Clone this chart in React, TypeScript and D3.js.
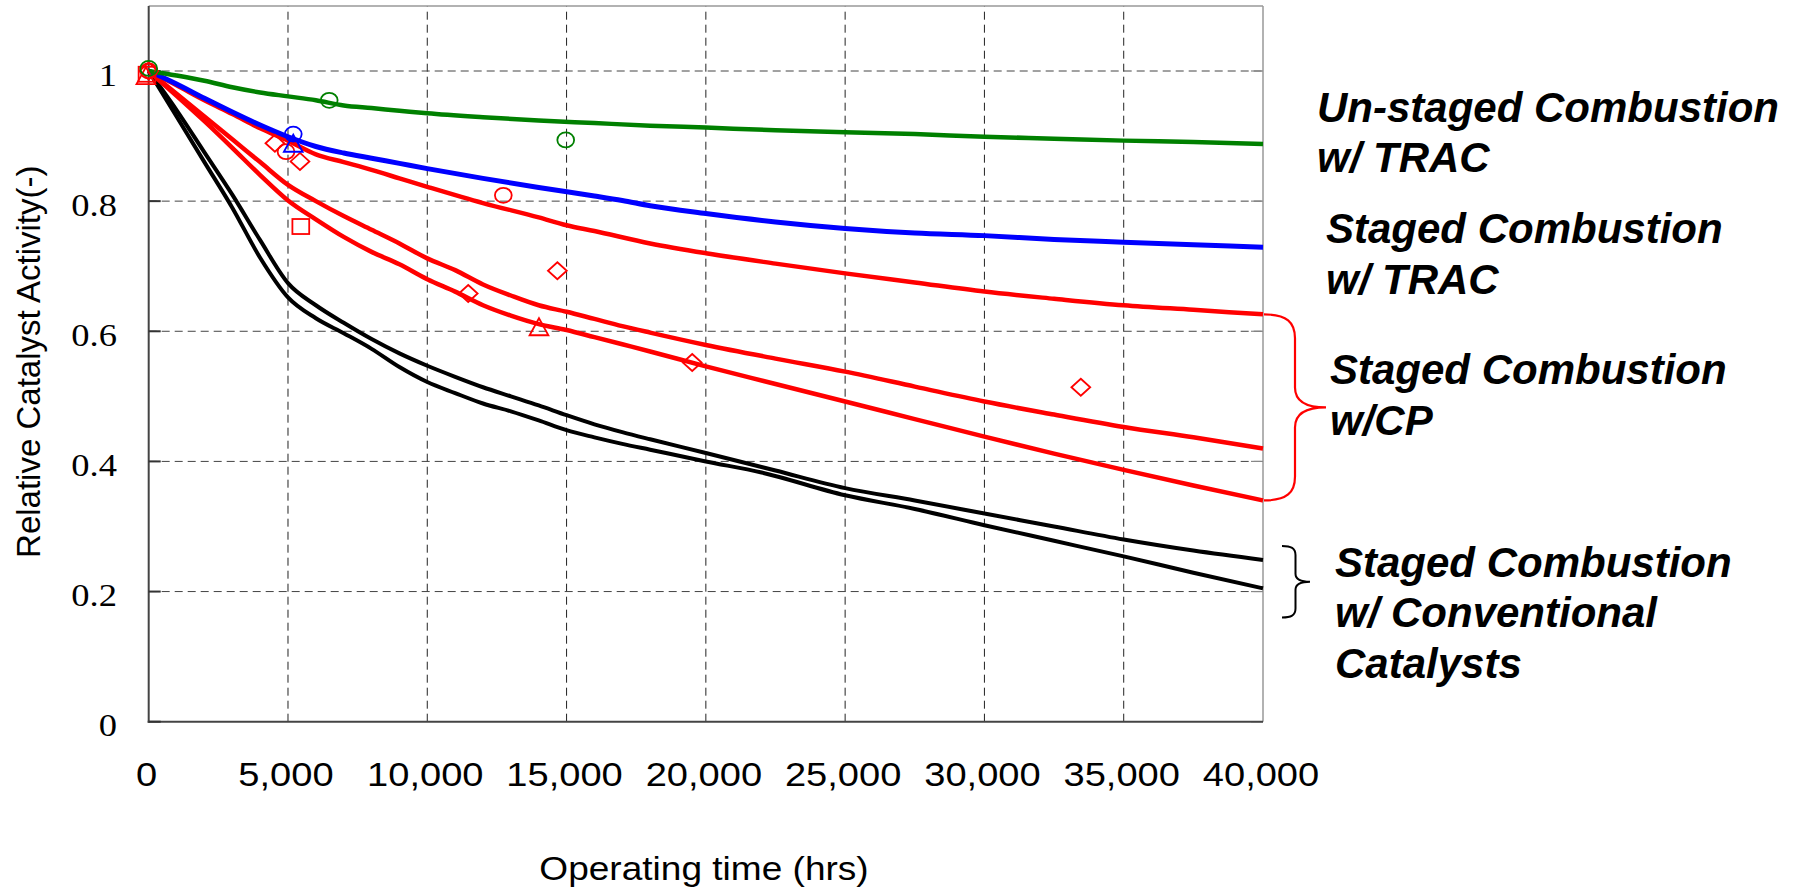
import React from "react";
import * as d3 from "d3";

const W = 1807;
const H = 893;

// ---- data (hours, relative activity) ----
const greenLine: [number, number][] = [
  [0, 1.0], [1000, 0.993], [2000, 0.985], [3000, 0.975], [4000, 0.967], [5000, 0.961],
  [6000, 0.955], [7000, 0.947], [8000, 0.943], [9000, 0.939], [10000, 0.935],
  [12000, 0.929], [14000, 0.924], [16000, 0.92], [18000, 0.916], [20000, 0.913],
  [22500, 0.909], [25000, 0.906], [27500, 0.903], [30000, 0.899], [32500, 0.896],
  [35000, 0.893], [37500, 0.891], [40000, 0.888],
];
const blueLine: [number, number][] = [
  [0, 1.0], [1000, 0.98], [2000, 0.958], [3000, 0.937], [4000, 0.917], [5000, 0.899],
  [6000, 0.884], [7000, 0.874], [8000, 0.866], [9000, 0.858], [10000, 0.85],
  [12000, 0.835], [14000, 0.821], [16000, 0.808], [17000, 0.801], [18000, 0.793],
  [20000, 0.781], [22500, 0.768], [25000, 0.758], [27500, 0.751], [30000, 0.747],
  [32500, 0.741], [35000, 0.737], [37500, 0.733], [40000, 0.729],
];
const redLineTop: [number, number][] = [
  [0, 1.0], [1000, 0.978], [2000, 0.955], [3000, 0.934], [4000, 0.912], [5000, 0.893],
  [6000, 0.872], [7000, 0.86], [8000, 0.848], [9000, 0.835], [10000, 0.822],
  [12000, 0.797], [14000, 0.775], [15000, 0.763], [16000, 0.754], [18000, 0.735],
  [20000, 0.72], [22500, 0.704], [25000, 0.689], [27500, 0.675], [30000, 0.661],
  [32500, 0.65], [35000, 0.64], [37500, 0.633], [40000, 0.626],
];
const redLineMid: [number, number][] = [
  [0, 1.0], [1000, 0.965], [2000, 0.93], [3000, 0.895], [4000, 0.86], [5000, 0.825],
  [6000, 0.8], [7000, 0.777], [8000, 0.756], [9000, 0.735], [10000, 0.712],
  [11000, 0.694], [12000, 0.672], [13000, 0.655], [14000, 0.64], [15000, 0.63],
  [16000, 0.619], [17000, 0.608], [18000, 0.598], [20000, 0.579], [22500, 0.558],
  [25000, 0.538], [27500, 0.515], [30000, 0.492], [32500, 0.472], [35000, 0.453],
  [37500, 0.437], [40000, 0.42],
];
const redLineLow: [number, number][] = [
  [0, 1.0], [1000, 0.962], [2000, 0.923], [3000, 0.882], [4000, 0.84], [5000, 0.801],
  [6000, 0.772], [7000, 0.745], [8000, 0.722], [9000, 0.703], [10000, 0.68],
  [11000, 0.661], [12000, 0.64], [13000, 0.624], [14000, 0.611], [15000, 0.602],
  [16000, 0.591], [17000, 0.58], [18000, 0.569], [20000, 0.546], [22500, 0.519],
  [25000, 0.492], [27500, 0.465], [30000, 0.438], [32500, 0.412], [35000, 0.387],
  [37500, 0.363], [40000, 0.34],
];
const blackLineUpper: [number, number][] = [
  [0, 1.0], [1000, 0.94], [2000, 0.875], [3000, 0.81], [4000, 0.74], [5000, 0.674],
  [6000, 0.64], [7000, 0.613], [8000, 0.588], [9000, 0.566], [10000, 0.547],
  [11000, 0.53], [12000, 0.514], [13000, 0.5], [14000, 0.486], [15000, 0.471],
  [16000, 0.457], [17000, 0.445], [18000, 0.434], [20000, 0.413], [22500, 0.386],
  [25000, 0.359], [27500, 0.34], [30000, 0.32], [32500, 0.3], [35000, 0.28],
  [37500, 0.263], [40000, 0.2485],
];
const blackLineLower: [number, number][] = [
  [0, 1.0], [1000, 0.93], [2000, 0.86], [3000, 0.79], [4000, 0.713], [5000, 0.652],
  [6000, 0.62], [7000, 0.597], [8000, 0.573], [9000, 0.545], [10000, 0.522],
  [11000, 0.505], [12000, 0.489], [13000, 0.477], [14000, 0.463], [15000, 0.448],
  [16000, 0.437], [17000, 0.427], [18000, 0.418], [20000, 0.4], [22000, 0.383],
  [25000, 0.348], [27500, 0.327], [30000, 0.302], [32500, 0.278], [35000, 0.254],
  [37500, 0.229], [40000, 0.205],
];

// measured points (hollow markers)
const greenCircles: [number, number][] = [[0, 1.004], [6480, 0.955], [14970, 0.894]];
const blueCircles: [number, number][] = [[5190, 0.903]];
const blueTriangles: [number, number][] = [[5190, 0.889]];
const redCircles: [number, number][] = [[0, 1.0], [4930, 0.876], [12730, 0.809]];
const redDiamonds: [number, number][] = [
  [0, 1.0], [4530, 0.889], [5430, 0.861], [11470, 0.658], [14670, 0.693], [19510, 0.552], [33460, 0.514],
];
const redSquares: [number, number][] = [[-60, 0.995], [5460, 0.761]];
const redTriangles: [number, number][] = [[-100, 0.993], [14010, 0.607]];

const xTicks = [0, 5000, 10000, 15000, 20000, 25000, 30000, 35000, 40000];
const yTicks = [0, 0.2, 0.4, 0.6, 0.8, 1];
const yLabels = ["0", "0.2", "0.4", "0.6", "0.8", "1"];

const annotations = [
  { lines: ["Un-staged Combustion", "w/ TRAC"], x: 1317, y: 121.7 },
  { lines: ["Staged Combustion", "w/ TRAC"], x: 1326, y: 243.3 },
  { lines: ["Staged Combustion", "w/CP"], x: 1330, y: 384 },
  { lines: ["Staged Combustion", "w/ Conventional", "Catalysts"], x: 1335, y: 576.7 },
];

// brace extents (values on the y axis)
const redBrace = { top: 0.626, bottom: 0.34 };
const blackBrace = { top: 0.27, bottom: 0.16 };

export default function App() {
  const x = d3.scaleLinear().domain([0, 40000]).range([148.7, 1263]);
  const y = d3.scaleLinear().domain([0, 1.1]).range([721.7, 721.7 - 1.1 * 650.7]);

  const line = d3
    .line<[number, number]>()
    .x((d) => x(d[0]))
    .y((d) => y(d[1]))
    .curve(d3.curveMonotoneX);

  const fmt = d3.format(",");
  const xL = x(0);
  const xR = x(40000);
  const yB = y(0);
  const yT = y(1.1);

  const rx = 8.4;
  const ry = 7.5;
  const mStroke = 1.8;

  const circles = (pts: [number, number][], color: string, key: string) =>
    pts.map((d, i) => (
      <ellipse key={key + i} cx={x(d[0])} cy={y(d[1])} rx={rx} ry={ry} fill="none" stroke={color} strokeWidth={mStroke} />
    ));
  const diamonds = (pts: [number, number][], color: string, key: string) =>
    pts.map((d, i) => {
      const cx = x(d[0]);
      const cy = y(d[1]);
      return (
        <path key={key + i} d={`M${cx},${cy - ry - 1}L${cx + rx + 1},${cy}L${cx},${cy + ry + 1}L${cx - rx - 1},${cy}Z`}
          fill="none" stroke={color} strokeWidth={mStroke} />
      );
    });
  const squares = (pts: [number, number][], color: string, key: string) =>
    pts.map((d, i) => (
      <rect key={key + i} x={x(d[0]) - rx} y={y(d[1]) - ry} width={2 * rx} height={2 * ry}
        fill="none" stroke={color} strokeWidth={mStroke} />
    ));
  const triangles = (pts: [number, number][], color: string, key: string) =>
    pts.map((d, i) => {
      const cx = x(d[0]);
      const cy = y(d[1]);
      return (
        <path key={key + i} d={`M${cx},${cy - ry - 1}L${cx + rx + 1},${cy + ry + 1}L${cx - rx - 1},${cy + ry + 1}Z`}
          fill="none" stroke={color} strokeWidth={mStroke} />
      );
    });

  // red brace
  const rbT = y(redBrace.top);
  const rbB = y(redBrace.bottom);
  const rbM = (rbT + rbB) / 2;
  const rv = xR + 32;
  const redBracePath =
    `M${xR + 1},${rbT} C${xR + 24},${rbT} ${rv},${rbT + 8} ${rv},${rbT + 24} ` +
    `L${rv},${rbM - 20} C${rv},${rbM - 6} ${xR + 44},${rbM} ${xR + 63},${rbM} ` +
    `C${xR + 44},${rbM} ${rv},${rbM + 6} ${rv},${rbM + 20} ` +
    `L${rv},${rbB - 24} C${rv},${rbB - 8} ${xR + 24},${rbB} ${xR + 1},${rbB}`;

  const bbT = y(blackBrace.top);
  const bbB = y(blackBrace.bottom);
  const bbM = (bbT + bbB) / 2;
  const bv = xR + 32.5;
  const blackBracePath =
    `M${xR + 19},${bbT} C${xR + 28},${bbT} ${bv},${bbT + 2} ${bv},${bbT + 9} ` +
    `L${bv},${bbM - 8} C${bv},${bbM - 2} ${xR + 38},${bbM} ${xR + 47},${bbM} ` +
    `C${xR + 38},${bbM} ${bv},${bbM + 2} ${bv},${bbM + 8} ` +
    `L${bv},${bbB - 9} C${bv},${bbB - 2} ${xR + 28},${bbB} ${xR + 19},${bbB}`;

  return (
    <svg width={W} height={H} style={{ position: "absolute", left: 0, top: 0, background: "#fff" }}>
      <rect x={0} y={0} width={W} height={H} fill="#fff" />
      {/* grid */}
      {xTicks.filter((t) => t > 0 && t < 40000).map((t) => (
        <line key={"gx" + t} x1={x(t)} x2={x(t)} y1={yB} y2={yT} stroke="#222" strokeWidth={1} strokeDasharray="8,5" />
      ))}
      {yTicks.filter((t) => t > 0).map((t) => (
        <line key={"gy" + t} x1={xL} x2={xR} y1={y(t)} y2={y(t)} stroke="#444" strokeWidth={1} strokeDasharray="8,5" />
      ))}
      {/* frame */}
      <line x1={xL} x2={xR} y1={yT} y2={yT} stroke="#999" strokeWidth={1.5} />
      <line x1={xR} x2={xR} y1={yT} y2={yB} stroke="#999" strokeWidth={1.5} />
      {yTicks.map((t) => (
        <line key={"rt" + t} x1={xR} x2={xR - 12} y1={y(t)} y2={y(t)} stroke="#888" strokeWidth={1.2} />
      ))}
      <line x1={xL} x2={xL} y1={yT} y2={yB + 1} stroke="#444" strokeWidth={2} />
      <line x1={xL - 1} x2={xR} y1={yB} y2={yB} stroke="#444" strokeWidth={2} />
      {yTicks.map((t) => (
        <line key={"lt" + t} x1={xL} x2={xL + 12} y1={y(t)} y2={y(t)} stroke="#333" strokeWidth={2} />
      ))}

      {/* curves */}
      <path d={line(blackLineUpper) || ""} fill="none" stroke="#000" strokeWidth={4} />
      <path d={line(blackLineLower) || ""} fill="none" stroke="#000" strokeWidth={4} />
      <path d={line(redLineLow) || ""} fill="none" stroke="#ff0000" strokeWidth={4.5} />
      <path d={line(redLineMid) || ""} fill="none" stroke="#ff0000" strokeWidth={4.5} />
      <path d={line(redLineTop) || ""} fill="none" stroke="#ff0000" strokeWidth={4.5} />
      <path d={line(blueLine) || ""} fill="none" stroke="#0000ff" strokeWidth={5} />
      <path d={line(greenLine) || ""} fill="none" stroke="#008000" strokeWidth={4.5} />

      {/* markers */}
      {squares(redSquares, "#ff0000", "rs")}
      {triangles(redTriangles, "#ff0000", "rt")}
      {diamonds(redDiamonds, "#ff0000", "rd")}
      {circles(redCircles, "#ff0000", "rc")}
      {triangles(blueTriangles, "#0000ff", "bt")}
      {circles(blueCircles, "#0000ff", "bc")}
      {circles(greenCircles, "#008000", "gc")}

      {/* braces */}
      <path d={redBracePath} fill="none" stroke="#ff0000" strokeWidth={2.2} />
      <path d={blackBracePath} fill="none" stroke="#000" strokeWidth={2} />

      {/* y tick labels */}
      {yTicks.map((t, i) => (
        <text key={"yl" + t} transform={`translate(117,${y(t) + 14.5}) scale(1.16,1)`} textAnchor="end"
          fontFamily="'Liberation Serif', 'DejaVu Serif', serif" fontSize={31.5} fill="#000">
          {yLabels[i]}
        </text>
      ))}
      {/* x tick labels */}
      {xTicks.map((t) => (
        <text key={"xl" + t} transform={`translate(${x(t) - 2},786) scale(1.12,1)`} textAnchor="middle"
          fontFamily="'Liberation Sans', Arial, sans-serif" fontSize={34} fill="#000">
          {t === 0 ? "0" : fmt(t)}
        </text>
      ))}
      {/* axis titles */}
      <text transform="translate(704,880) scale(1.09,1)" textAnchor="middle"
        fontFamily="'Liberation Sans', Arial, sans-serif" fontSize={34} fill="#000">
        Operating time (hrs)
      </text>
      <text transform="translate(39.5,361.7) rotate(-90)" textAnchor="middle"
        fontFamily="'Liberation Sans', Arial, sans-serif" fontSize={33} fill="#000">
        Relative Catalyst Activity(-)
      </text>

      {/* annotations */}
      {annotations.map((a, i) => (
        <text key={"an" + i} fontFamily="'Liberation Sans', Arial, sans-serif" fontSize={42}
          fontWeight="bold" fontStyle="italic" fill="#000">
          {a.lines.map((l, j) => (
            <tspan key={j} x={a.x} y={a.y + j * 50.5}>{l}</tspan>
          ))}
        </text>
      ))}
    </svg>
  );
}
